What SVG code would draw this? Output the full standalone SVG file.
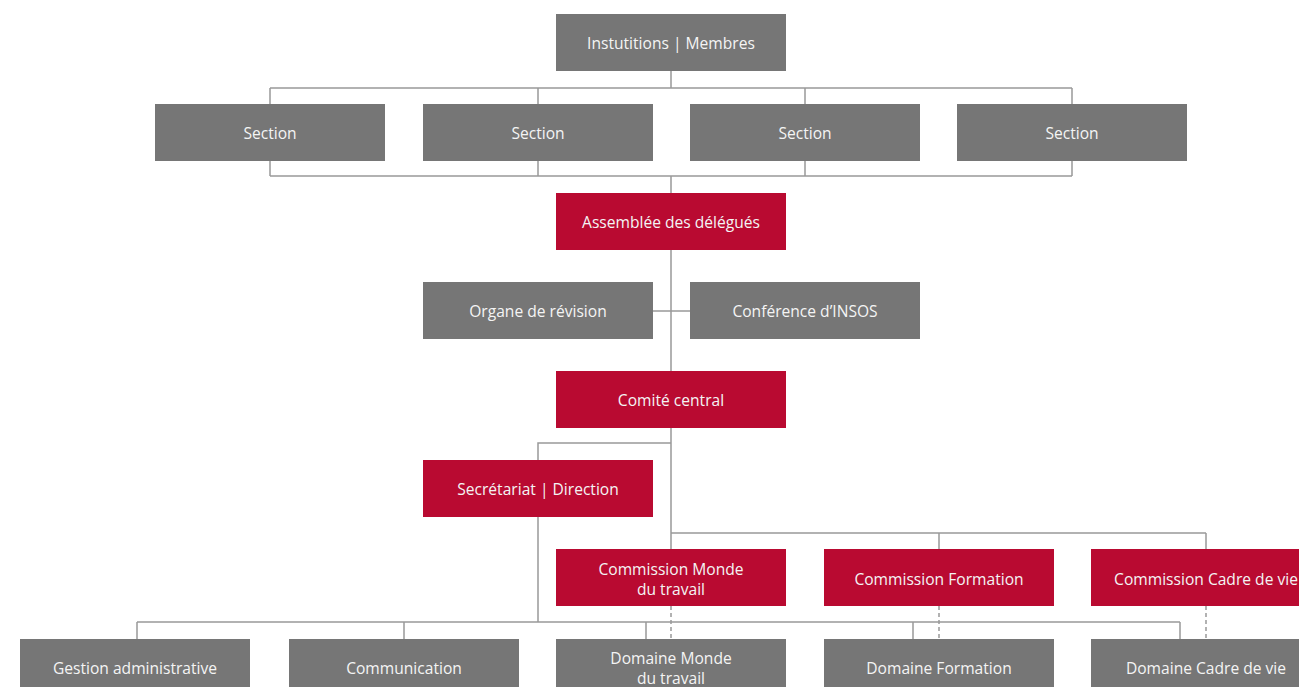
<svg xmlns="http://www.w3.org/2000/svg" width="1299" height="687" viewBox="0 0 1299 687">
<style>
.g{fill:#767676}
.r{fill:#b90a31}
text{font-family:"Open Sans","Liberation Sans",sans-serif;font-size:15.6px;fill:#f4f4f4;text-anchor:middle}
.c line,.c polyline{stroke:#999;stroke-width:1.5;fill:none}
.c .d{stroke-dasharray:4 3}
</style>
<rect width="1299" height="687" fill="#fff"/>
<g class="c" id="connectors">
<line x1="671" y1="71" x2="671" y2="88"/>
<line x1="270" y1="88" x2="1072" y2="88"/>
<line x1="270" y1="88" x2="270" y2="176"/>
<line x1="538" y1="88" x2="538" y2="176"/>
<line x1="805" y1="88" x2="805" y2="176"/>
<line x1="1072" y1="88" x2="1072" y2="176"/>
<line x1="270" y1="176" x2="1072" y2="176"/>
<line x1="671" y1="176" x2="671" y2="193"/>
<line x1="671" y1="250" x2="671" y2="371"/>
<line x1="653" y1="311" x2="690" y2="311"/>
<line x1="671" y1="428" x2="671" y2="549"/>
<polyline points="671,443 538,443 538,460"/>
<line x1="538" y1="517" x2="538" y2="622"/>
<line x1="671" y1="533" x2="1206" y2="533"/>
<line x1="939" y1="533" x2="939" y2="549"/>
<line x1="1206" y1="533" x2="1206" y2="549"/>
<line x1="137" y1="622" x2="1180" y2="622"/>
<line x1="137" y1="622" x2="137" y2="639"/>
<line x1="404" y1="622" x2="404" y2="639"/>
<line x1="646" y1="622" x2="646" y2="639"/>
<line x1="913" y1="622" x2="913" y2="639"/>
<line x1="1180" y1="622" x2="1180" y2="639"/>
<line class="d" x1="671" y1="606" x2="671" y2="639"/>
<line class="d" x1="939" y1="606" x2="939" y2="639"/>
<line class="d" x1="1206" y1="606" x2="1206" y2="639"/>
</g>
<g id="n-membres"><rect class="g" x="556" y="14" width="230" height="57"/><text x="671" y="49">Instutitions | Membres</text></g>
<g id="n-section1"><rect class="g" x="155" y="104" width="230" height="57"/><text x="270" y="139">Section</text></g>
<g id="n-section2"><rect class="g" x="423" y="104" width="230" height="57"/><text x="538" y="139">Section</text></g>
<g id="n-section3"><rect class="g" x="690" y="104" width="230" height="57"/><text x="805" y="139">Section</text></g>
<g id="n-section4"><rect class="g" x="957" y="104" width="230" height="57"/><text x="1072" y="139">Section</text></g>
<g id="n-assemblee"><rect class="r" x="556" y="193" width="230" height="57"/><text x="671" y="228">Assemblée des délégués</text></g>
<g id="n-organe"><rect class="g" x="423" y="282" width="230" height="57"/><text x="538" y="317">Organe de révision</text></g>
<g id="n-conference"><rect class="g" x="690" y="282" width="230" height="57"/><text x="805" y="317">Conférence d’INSOS</text></g>
<g id="n-comite"><rect class="r" x="556" y="371" width="230" height="57"/><text x="671" y="406">Comité central</text></g>
<g id="n-secretariat"><rect class="r" x="423" y="460" width="230" height="57"/><text x="538" y="495">Secrétariat | Direction</text></g>
<g id="n-com-monde"><rect class="r" x="556" y="549" width="230" height="57"/><text x="671" y="575">Commission Monde</text><text x="671" y="595">du travail</text></g>
<g id="n-com-formation"><rect class="r" x="824" y="549" width="230" height="57"/><text x="939" y="585">Commission Formation</text></g>
<g id="n-com-cadre"><rect class="r" x="1091" y="549" width="230" height="57"/><text x="1206" y="585">Commission Cadre de vie</text></g>
<g id="n-gestion"><rect class="g" x="20" y="639" width="230" height="57"/><text x="135" y="674">Gestion administrative</text></g>
<g id="n-communication"><rect class="g" x="289" y="639" width="230" height="57"/><text x="404" y="674">Communication</text></g>
<g id="n-dom-monde"><rect class="g" x="556" y="639" width="230" height="57"/><text x="671" y="664">Domaine Monde</text><text x="671" y="684">du travail</text></g>
<g id="n-dom-formation"><rect class="g" x="824" y="639" width="230" height="57"/><text x="939" y="674">Domaine Formation</text></g>
<g id="n-dom-cadre"><rect class="g" x="1091" y="639" width="230" height="57"/><text x="1206" y="674">Domaine Cadre de vie</text></g>
</svg>
